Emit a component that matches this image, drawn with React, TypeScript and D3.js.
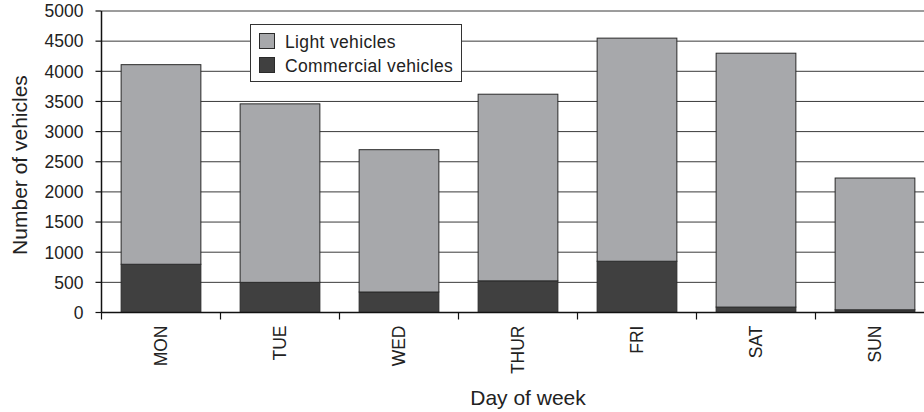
import React from "react";
import * as d3 from "d3";

const days = ["MON", "TUE", "WED", "THUR", "FRI", "SAT", "SUN"];
const commercial = [800, 500, 340, 525, 850, 90, 45];
const light = [3310, 2960, 2360, 3095, 3700, 4210, 2185];
const yTicks = [0, 500, 1000, 1500, 2000, 2500, 3000, 3500, 4000, 4500, 5000];
const seriesNames = ["Light vehicles", "Commercial vehicles"];
const seriesColors = ["#a7a8ab", "#404040"];

const W = 924;
const H = 412;
const left = 101.5;
const top = 11;
const bottom = 312.5;
const step = 119;

export default function App() {
  const x = d3
    .scaleBand<string>()
    .domain(days)
    .range([left, left + step * days.length])
    .paddingInner(0.33)
    .paddingOuter(0.165);
  const y = d3.scaleLinear().domain([0, 5000]).range([bottom, top]);

  const rows = days.map((d, i) => ({ day: d, commercial: commercial[i], light: light[i] }));
  const stack = d3.stack<any>().keys(["commercial", "light"])(rows);
  const font = "'Liberation Sans', Arial, Helvetica, sans-serif";

  return (
    <svg
      width={W}
      height={H}
      style={{ position: "absolute", left: 0, top: 0, background: "#fff" }}
      fontFamily={font}
    >
      {/* gridlines */}
      {yTicks.map((t) => (
        <line key={"g" + t} x1={left} x2={W} y1={y(t)} y2={y(t)} stroke="#3a3a3a" strokeWidth={1} />
      ))}
      {/* bars */}
      {stack.map((s) => (
        <g key={s.key}>
          {s.map((seg, i) => (
            <rect
              key={i}
              x={x(days[i])!}
              width={x.bandwidth()}
              y={y(seg[1])}
              height={y(seg[0]) - y(seg[1])}
              fill={s.key === "light" ? seriesColors[0] : seriesColors[1]}
              stroke="#2a2a2a"
              strokeWidth={1}
            />
          ))}
        </g>
      ))}
      {/* y axis */}
      <line x1={left} x2={left} y1={top} y2={bottom} stroke="#111" strokeWidth={1.5} />
      {yTicks.map((t) => (
        <g key={"yt" + t}>
          <line x1={left - 6} x2={left} y1={y(t)} y2={y(t)} stroke="#111" strokeWidth={1.2} />
          <text x={83.5} y={y(t)} dy="0.36em" textAnchor="end" fontSize={17.5} fill="#222">
            {t}
          </text>
        </g>
      ))}
      {/* x axis */}
      <line x1={left} x2={W} y1={bottom} y2={bottom} stroke="#111" strokeWidth={1.5} />
      {days.map((d, i) => (
        <line
          key={"xt" + d}
          x1={left + step * i}
          x2={left + step * i}
          y1={bottom}
          y2={bottom + 7}
          stroke="#111"
          strokeWidth={1.2}
        />
      ))}
      {days.map((d) => {
        const cx = x(d)! + x.bandwidth() / 2;
        return (
          <text
            key={"xl" + d}
            transform={`translate(${cx},${bottom + 13}) rotate(-90)`}
            dy="0.36em"
            textAnchor="end"
            fontSize={17.5}
            fill="#222"
          >
            {d}
          </text>
        );
      })}
      {/* axis titles */}
      <text x={528} y={405} textAnchor="middle" fontSize={21} fill="#222">
        Day of week
      </text>
      <text
        transform={`translate(27,165) rotate(-90)`}
        textAnchor="middle"
        fontSize={21}
        fill="#222"
      >
        Number of vehicles
      </text>
      {/* legend */}
      <rect x={250.5} y={24.5} width={211} height={57} fill="#fff" stroke="#333" strokeWidth={1} />
      {seriesNames.map((n, i) => (
        <g key={n}>
          <rect
            x={259.5}
            y={33.5 + i * 24}
            width={15}
            height={15}
            fill={seriesColors[i]}
            stroke="#2a2a2a"
            strokeWidth={1}
          />
          <text x={285} y={47.5 + i * 24} fontSize={17.5} letterSpacing={0.35} fill="#222">
            {n}
          </text>
        </g>
      ))}
    </svg>
  );
}
